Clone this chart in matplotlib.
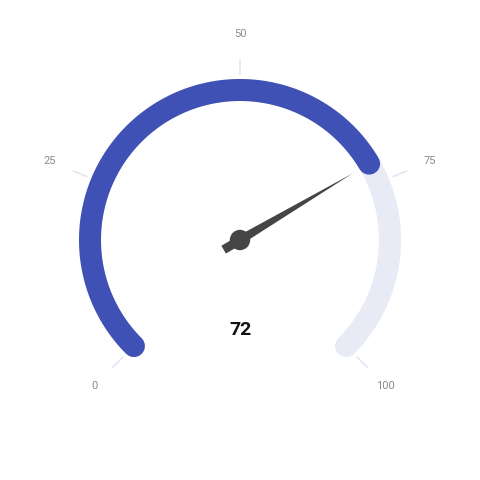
import matplotlib.pyplot as plt
import numpy as np

value = 72
v_min, v_max = 0, 100
tick_values = [0, 25, 50, 75, 100]
tick_labels = ['0', '25', '50', '75', '100']

fig = plt.figure(figsize=(4.8, 4.8), dpi=100)
ax = fig.add_axes([0, 0, 1, 1])
ax.set_xlim(0, 480)
ax.set_ylim(480, 0)
ax.axis('off')

cx, cy = 240, 240
r_arc = 150
start_deg, sweep = 225, 270


def ang(v):
    return np.radians(start_deg - (v - v_min) / (v_max - v_min) * sweep)


def pt(v, r):
    a = ang(v)
    return cx + r * np.cos(a), cy - r * np.sin(a)


lw = 22 * 72 / 100
# track
vs = np.linspace(v_min, v_max, 300)
xs, ys = pt(vs, r_arc)
ax.plot(xs, ys, color='#e8eaf6', lw=lw, solid_capstyle='round', zorder=1)
# value arc
vs = np.linspace(v_min, value, 300)
xs, ys = pt(vs, r_arc)
ax.plot(xs, ys, color='#3f51b5', lw=lw, solid_capstyle='round', zorder=2)

# ticks and labels
for tv, tl in zip(tick_values, tick_labels):
    x0, y0 = pt(tv, 166)
    x1, y1 = pt(tv, 180)
    ax.plot([x0, x1], [y0, y1], color='#e3e5f3', lw=1.2, zorder=1)
    lx, ly = pt(tv, 206)
    ax.text(lx, ly, tl, ha='center', va='center', fontsize=8, color='#8a8a8a',
            family='Roboto')

# needle
a = ang(value)
ux, uy = np.cos(a), -np.sin(a)
px, py = -uy, ux
tip = (cx + 131 * ux, cy + 131 * uy)
hw = 4.5
tail = 19
poly = [
    (tip[0], tip[1]),
    (cx + hw * px, cy + hw * py),
    (cx - tail * ux + hw * px, cy - tail * uy + hw * py),
    (cx - tail * ux - hw * px, cy - tail * uy - hw * py),
    (cx - hw * px, cy - hw * py),
]
ax.add_patch(plt.Polygon(poly, closed=True, color='#454545', lw=0, zorder=3))
ax.add_patch(plt.Circle((cx, cy), 9.5, color='#454545', zorder=4))

ax.text(cx, 330, str(value), ha='center', va='center', fontsize=14,
        fontweight='bold', color='#111111', family='Roboto')

fig.savefig('out.png', dpi=100)
